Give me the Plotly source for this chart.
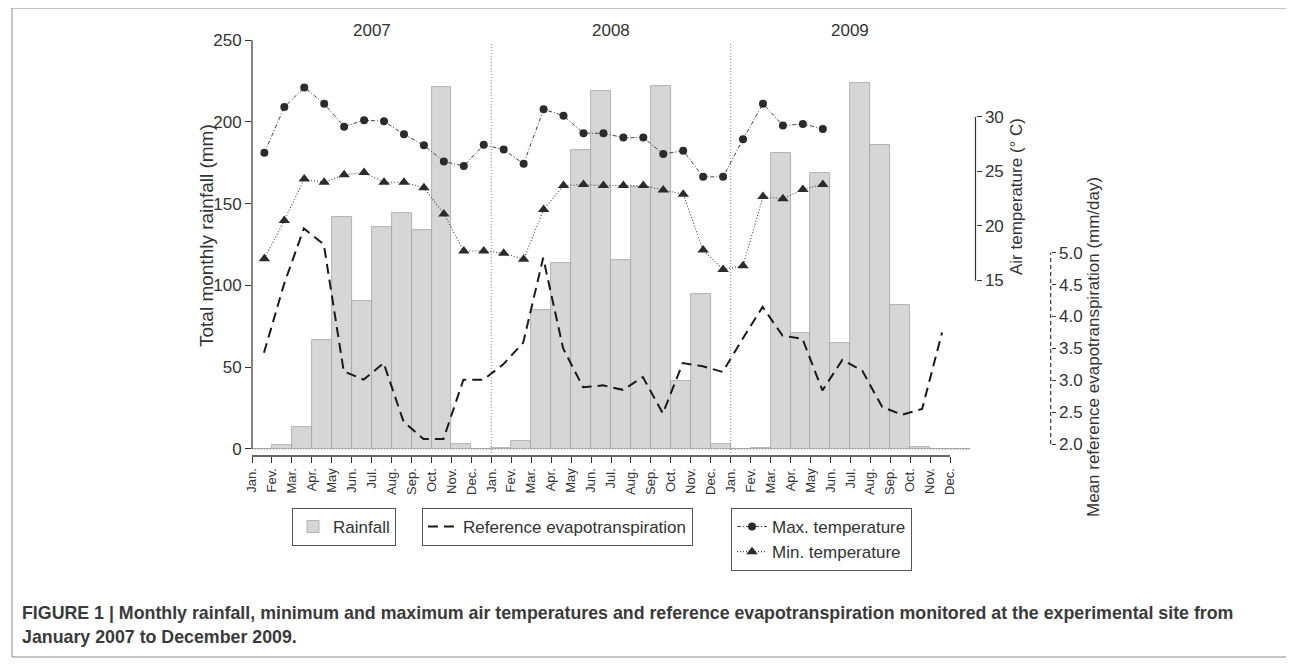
import plotly.graph_objects as go

# values
years = ["2007", "2008", "2009"]
month_labels = ["Jan.", "Fev.", "Mar.", "Apr.", "May", "Jun.",
                "Jul.", "Aug.", "Sep.", "Oct.", "Nov.", "Dec."]

# total monthly rainfall (mm), Jan 2007 .. Dec 2009
rainfall = [0, 2.5, 13.5, 66.7, 142, 90.5, 135.5, 144.5, 134, 221, 3, 0,
            0.5, 5, 85, 113.5, 182.5, 219, 115.5, 160, 222, 41.5, 95, 3,
            0, 0.5, 181, 71, 168.5, 65, 224, 186, 88, 1.5, 0, 0]

# air temperature (deg C), Jan 2007 .. May 2009
max_temp = [26.7, 30.9, 32.7, 31.2, 29.1, 29.7, 29.6, 28.4, 27.4, 25.9, 25.5, 27.45,
            27.0, 25.7, 30.7, 30.1, 28.5, 28.5, 28.1, 28.1, 26.6, 26.9, 24.5, 24.5,
            27.95, 31.2, 29.2, 29.35, 28.9]
min_temp = [17.0, 20.5, 24.3, 24.0, 24.7, 24.9, 24.0, 24.0, 23.5, 21.1, 17.7, 17.7,
            17.5, 16.95, 21.5, 23.7, 23.8, 23.7, 23.7, 23.7, 23.3, 22.9, 17.8, 16.0,
            16.35, 22.7, 22.5, 23.35, 23.8]

# mean reference evapotranspiration (mm/day), Jan 2007 .. Nov 2009
ref_et = [3.43, 4.5, 5.38, 5.13, 3.14, 3.01, 3.27, 2.35, 2.08, 2.08, 3.01, 3.01,
          3.25, 3.59, 4.92, 3.5, 2.89, 2.92, 2.85, 3.05, 2.48, 3.27, 3.22, 3.13,
          3.65, 4.15, 3.7, 3.65, 2.84, 3.32, 3.15, 2.58, 2.46, 2.55, 3.75]

rain_ticks = [0, 50, 100, 150, 200, 250]
temp_ticks = [15, 20, 25, 30]
et_ticks = [2.0, 2.5, 3.0, 3.5, 4.0, 4.5, 5.0]

# page geometry in screen pixels (the page body adds an 8px offset)
W, H = 1294, 665
OFF = 8
L, R, T, B = 252, 1120, 40, 456


def px(x):
    return (x - L) / (R - L)


def py(y):
    return (B - y) / (B - T)


ink = "#333333"
n_months = len(years) * len(month_labels)
tick_text = month_labels * len(years)

fig = go.Figure()

fig.add_trace(go.Bar(
    x=[i + 0.5 for i in range(len(rainfall))], y=rainfall, width=1,
    name="Rainfall", legend="legend",
    marker=dict(color="#d6d6d6", line=dict(color="#a3a3a3", width=0.8)),
))

fig.add_trace(go.Scatter(
    x=[i + 0.6 for i in range(len(ref_et))], y=ref_et, yaxis="y3",
    mode="lines", name="Reference evapotranspiration", legend="legend2",
    line=dict(color="#1a1a1a", width=2, dash="10px,6px"),
))

fig.add_trace(go.Scatter(
    x=[i + 0.62 for i in range(len(max_temp))], y=max_temp, yaxis="y2",
    mode="lines+markers", name="Max. temperature", legend="legend3",
    line=dict(color="#444444", width=1, dash="4px,2px,1px,2px"),
    marker=dict(symbol="circle", size=8, color="#2b2b2b"),
))

fig.add_trace(go.Scatter(
    x=[i + 0.62 for i in range(len(min_temp))], y=min_temp, yaxis="y2",
    mode="lines+markers", name="Min. temperature", legend="legend3",
    line=dict(color="#444444", width=1.1, dash="1px,2px"),
    marker=dict(symbol="triangle-up", size=10, color="#2b2b2b"),
))

t_pos = px(975.5)
et_pos = px(1050.7)

shapes = [
    # figure frame
    dict(type="rect", xref="paper", yref="paper", x0=px(12), x1=px(1291),
         y0=py(657), y1=py(8), line=dict(color="#8a8a8a", width=1)),
    # x axis line
    dict(type="line", xref="x", yref="paper", x0=0, x1=n_months - 1, y0=0, y1=0,
         line=dict(color=ink, width=1.5)),
    # left axis line
    dict(type="line", xref="paper", yref="y", x0=0, x1=0, y0=0, y1=250,
         line=dict(color=ink, width=1.2)),
    # temperature axis line
    dict(type="line", xref="paper", yref="y2", x0=t_pos, x1=t_pos,
         y0=temp_ticks[0], y1=temp_ticks[-1], line=dict(color=ink, width=1.2)),
    # ET axis line (dashed)
    dict(type="line", xref="paper", yref="y3", x0=et_pos, x1=et_pos,
         y0=et_ticks[0], y1=et_ticks[-1], line=dict(color=ink, width=1.2, dash="4px,3px")),
    # zero baseline
    dict(type="line", xref="x", yref="y", x0=0, x1=n_months, y0=0, y1=0,
         line=dict(color="#888888", width=1, dash="1px,2px")),
]
for k in range(1, len(years)):
    shapes.append(dict(type="line", xref="x", yref="paper", x0=12 * k, x1=12 * k,
                       y0=0, y1=0.995, line=dict(color="#888888", width=1, dash="1px,2px")))

annotations = []
for k, yr in enumerate(years):
    annotations.append(dict(text=yr, x=12 * k + 6, xref="x", y=py(31), yref="paper",
                            xanchor="center", yanchor="middle",
                            showarrow=False, font=dict(size=17, color=ink)))


def vtitle(text, x, y, size):
    return dict(text=text, x=px(x), y=py(y), xref="paper", yref="paper",
                xanchor="center", yanchor="middle", textangle=-90,
                showarrow=False, font=dict(size=size, color=ink))


annotations += [
    vtitle("Total monthly rainfall (mm)", 206, 236, 19),
    vtitle("Air temperature (° C)", 1016, 197, 17),
    vtitle("Mean reference evapotranspiration (mm/day)", 1093, 347, 17),
    dict(text="<b>FIGURE 1 | Monthly rainfall, minimum and maximum air temperatures and "
              "reference evapotranspiration monitored at the experimental site from</b>",
         x=px(20), y=py(613), xref="paper", yref="paper", xanchor="left", yanchor="middle",
         showarrow=False, font=dict(size=17.8, color="#3a3a3a")),
    dict(text="<b>January 2007 to December 2009.</b>",
         x=px(20), y=py(637), xref="paper", yref="paper", xanchor="left", yanchor="middle",
         showarrow=False, font=dict(size=17.8, color="#3a3a3a")),
]

legend_style = dict(xanchor="left", yanchor="top", bgcolor="white",
                    bordercolor="#555555", borderwidth=1,
                    font=dict(size=17, color=ink))

fig.update_layout(
    width=W, height=H,
    margin=dict(l=L - OFF, r=W - (R - OFF), t=T - OFF, b=H - (B - OFF)),
    paper_bgcolor="white", plot_bgcolor="white",
    font=dict(family="Liberation Sans, Arial, sans-serif", color=ink, size=15),
    bargap=0,
    showlegend=True,
    legend=dict(x=px(292), y=py(508), **legend_style),
    legend2=dict(x=px(422), y=py(508), **legend_style),
    legend3=dict(x=px(731), y=py(508), **legend_style),
    xaxis=dict(domain=[0, px(970)], range=[0, n_months], tickmode="array",
               tickvals=list(range(n_months)), ticktext=tick_text, tickangle=-90,
               ticks="outside", ticklen=6, tickcolor=ink, showgrid=False,
               zeroline=False, showline=False, tickfont=dict(size=13)),
    yaxis=dict(range=[-4.3, 250], tickvals=rain_ticks, ticks="outside", ticklen=6,
               tickcolor=ink, showgrid=False, zeroline=False, showline=False,
               tickfont=dict(size=17)),
    yaxis2=dict(overlaying="y", anchor="free", side="right", position=t_pos,
                range=[-1.095, 37.05], tickvals=temp_ticks, ticks="outside", ticklen=5,
                tickcolor=ink, showgrid=False, zeroline=False, showline=False,
                tickfont=dict(size=17)),
    yaxis3=dict(overlaying="y", anchor="free", side="right", position=et_pos,
                range=[1.813, 8.333], tickvals=et_ticks, tickformat=".1f",
                ticks="outside", ticklen=4, tickcolor=ink, showgrid=False,
                zeroline=False, showline=False, tickfont=dict(size=17)),
    shapes=shapes,
    annotations=annotations,
)

fig.write_html("out.html")
